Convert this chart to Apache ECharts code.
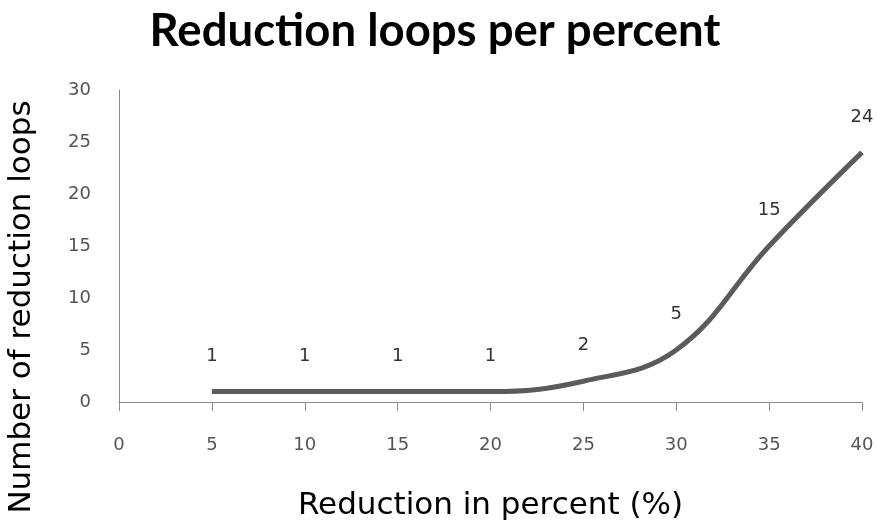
<!DOCTYPE html>
<html>
<head>
<meta charset="utf-8">
<script src="https://cdn.jsdelivr.net/npm/echarts@6/dist/echarts.min.js"></script>
<style>
  html, body { margin: 0; padding: 0; background: #fff; }
  #chart { width: 877px; height: 527px; }
</style>
</head>
<body>
<div id="chart"></div>
<script>
// Reduction level (%) and the number of reduction loops needed
const reductionPercent = [5, 10, 15, 20, 25, 30, 35, 40];
const reductionLoops = [1, 1, 1, 1, 2, 5, 15, 24];

const chart = echarts.init(document.getElementById('chart'), null, { renderer: 'canvas' });

const axisGray = '#8a8a8a';
const labelFont = { fontFamily: 'DejaVu Sans', fontSize: 18, color: '#555' };

chart.setOption({
  animation: false,
  backgroundColor: '#ffffff',
  title: {
    text: 'Reduction loops per percent',
    left: 430,
    textAlign: 'center',
    top: 3,
    textStyle: { fontFamily: 'Lato', fontWeight: 'bold', fontSize: 45.5, color: '#000' }
  },
  grid: { left: 119, right: 15, top: 90, bottom: 125, outerBoundsMode: 'none', containLabel: false },
  xAxis: {
    type: 'value',
    min: 0,
    max: 40,
    interval: 5,
    name: 'Reduction in percent (%)',
    nameLocation: 'middle',
    nameGap: 88,
    nameTextStyle: { fontFamily: 'DejaVu Sans', fontSize: 31, color: '#000' },
    axisLine: { show: true, lineStyle: { color: axisGray, width: 1 } },
    axisTick: { show: true, length: 9, lineStyle: { color: axisGray } },
    axisLabel: Object.assign({ margin: 34 }, labelFont),
    splitLine: { show: false }
  },
  yAxis: {
    type: 'value',
    min: 0,
    max: 30,
    interval: 5,
    name: 'Number of reduction loops',
    nameLocation: 'middle',
    nameGap: 82,
    nameTextStyle: { fontFamily: 'DejaVu Sans', fontSize: 31, color: '#000', padding: [0, 122, 0, 0] },
    axisLine: { show: true, lineStyle: { color: axisGray, width: 1 } },
    axisTick: { show: false },
    axisLabel: Object.assign({ margin: 28 }, labelFont),
    splitLine: { show: false }
  },
  series: [{
    type: 'line',
    data: reductionPercent.map((x, i) => [x, reductionLoops[i]]),
    smooth: 0.4,
    showSymbol: true,
    symbol: 'circle',
    symbolSize: 1,
    itemStyle: { color: 'rgba(0,0,0,0)' },
    lineStyle: { color: '#595d5a', width: 5 },
    label: {
      show: true,
      position: 'top',
      distance: 26,
      fontFamily: 'DejaVu Sans',
      fontSize: 18,
      color: '#333',
      formatter: p => p.value[1]
    }
  }]
});
</script>
</body>
</html>
